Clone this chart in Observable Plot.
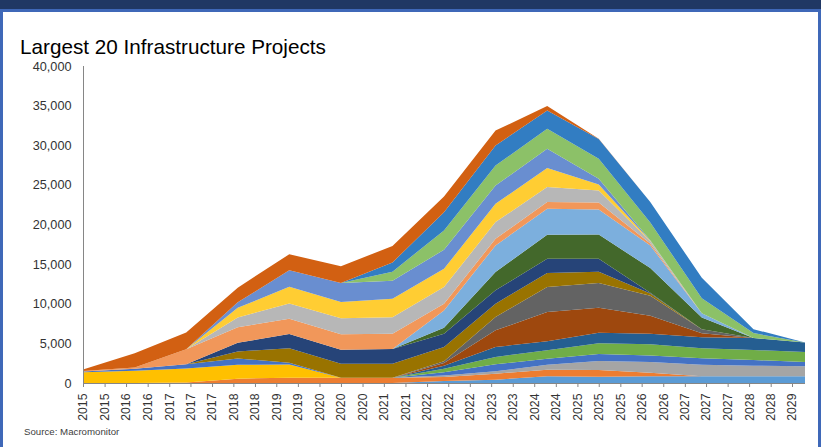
<!DOCTYPE html>
<html>
<head>
<meta charset="utf-8">
<script src="https://cdn.jsdelivr.net/npm/d3@7"></script>
<script src="https://cdn.jsdelivr.net/npm/@observablehq/plot@0.6"></script>
<style>
  html, body { margin: 0; padding: 0; background: #fff; }
  #frame { position: relative; width: 821px; height: 447px; overflow: hidden; background: #fff;
           font-family: "Liberation Sans", Arial, sans-serif; }
  #bar { position: absolute; left: 0; top: 0; width: 821px; height: 9px; background: #203864; }
  #border { position: absolute; left: 0; top: 9px; width: 815px; height: 450px;
            border: 3px solid #3F68B8; border-bottom: none; }
  #title { position: absolute; left: 20px; top: 35px; font-size: 20.7px; line-height: 24px;
           color: #000; white-space: nowrap; }
  #chart { position: absolute; left: 0; top: 60px; }
  #source { position: absolute; left: 24px; top: 425.6px; font-size: 9.7px; line-height: 12px;
            color: #404040; white-space: nowrap; }
</style>
</head>
<body>
<div id="frame">
  <div id="bar"></div>
  <div id="border"></div>
  <div id="title">Largest 20 Infrastructure Projects</div>
  <div id="chart"></div>
  <div id="source">Source: Macromonitor</div>
</div>
<script>
// ---- data (one value per year 2015..2029) ----
const years = [2015, 2016, 2017, 2018, 2019, 2020, 2021, 2022, 2023, 2024, 2025, 2026, 2027, 2028, 2029];

const p01 = [0, 0, 0, 0, 0, 0, 0, 250, 420, 840, 800, 840, 840, 840, 840];
const p02 = [0, 0, 50, 550, 670, 670, 670, 500, 760, 840, 850, 450, 0, 0, 0];
const p03 = [0, 0, 0, 0, 0, 0, 0, 200, 300, 630, 1130, 1350, 1450, 1350, 1260];
const p04 = [1350, 1550, 1770, 1750, 1680, 0, 0, 0, 0, 0, 0, 0, 0, 0, 0];
const p05 = [100, 250, 550, 800, 200, 0, 0, 420, 880, 760, 880, 840, 840, 715, 550];
const p06 = [0, 0, 0, 0, 0, 0, 0, 420, 930, 1050, 1350, 1420, 1260, 1260, 1260];
const p07 = [0, 0, 0, 0, 0, 0, 0, 380, 1260, 1135, 1320, 1300, 1390, 1500, 1200];
const p08 = [0, 0, 0, 0, 0, 0, 0, 340, 2100, 3700, 3150, 2300, 500, 0, 0];
const p09 = [0, 0, 0, 0, 0, 0, 0, 250, 1680, 3150, 3150, 2500, 500, 0, 0];
const p10 = [0, 0, 0, 880, 1850, 1770, 1770, 1770, 1680, 1770, 1410, 300, 0, 0, 0];
const p11 = [0, 0, 0, 1100, 1770, 1770, 1850, 1680, 1680, 1810, 1640, 100, 0, 0, 0];
const p12 = [0, 0, 0, 0, 0, 0, 0, 760, 2310, 3030, 3050, 3100, 1470, 0, 0];
const p13 = [0, 0, 0, 0, 0, 0, 0, 2190, 3360, 3280, 3150, 2850, 550, 0, 0];
const p14 = [50, 150, 1900, 1950, 1930, 1930, 1910, 840, 840, 840, 900, 250, 0, 0, 0];
const p15 = [0, 0, 0, 1250, 1930, 2020, 2100, 2100, 2100, 1890, 1520, 300, 0, 0, 0];
const p16 = [0, 0, 0, 1200, 2100, 2060, 2330, 2310, 2310, 2400, 740, 50, 0, 0, 0];
const p17 = [0, 0, 0, 700, 2100, 2400, 2270, 2400, 2310, 2440, 740, 50, 0, 0, 0];
const p18 = [0, 0, 0, 0, 0, 0, 1150, 2440, 2520, 2520, 2520, 2250, 1890, 630, 0];
const p19 = [0, 0, 0, 0, 0, 0, 1150, 2310, 2520, 2310, 2480, 2600, 2590, 500, 0];
const p20 = [200, 1800, 2100, 1850, 2020, 2100, 2100, 1980, 1890, 550, 50, 0, 0, 0, 0];

const seriesNames = ["Project 1", "Project 2", "Project 3", "Project 4", "Project 5",
  "Project 6", "Project 7", "Project 8", "Project 9", "Project 10",
  "Project 11", "Project 12", "Project 13", "Project 14", "Project 15",
  "Project 16", "Project 17", "Project 18", "Project 19", "Project 20"];
const seriesValues = [p01, p02, p03, p04, p05, p06, p07, p08, p09, p10,
  p11, p12, p13, p14, p15, p16, p17, p18, p19, p20];
const seriesColors = ["#5B9BD5", "#ED7D31", "#A5A5A5", "#FFC000", "#4472C4", "#70AD47",
  "#255E91", "#9E480E", "#636363", "#997300", "#264478", "#43682B",
  "#7CAFDD", "#F1975A", "#B7B7B7", "#FFCD33", "#698ED0", "#8CC168",
  "#327DC2", "#D26012"];

// date-axis ticks (every 5 months), labelled with the year
const xTickMonths = ["2015-06", "2015-11", "2016-04", "2016-09", "2017-02", "2017-07", "2017-12",
  "2018-05", "2018-10", "2019-03", "2019-08", "2020-01", "2020-06", "2020-11", "2021-04",
  "2021-09", "2022-02", "2022-07", "2022-12", "2023-05", "2023-10", "2024-03", "2024-08",
  "2025-01", "2025-06", "2025-11", "2026-04", "2026-09", "2027-02", "2027-07", "2027-12",
  "2028-05", "2028-10", "2029-03"];
const yTicks = [0, 5000, 10000, 15000, 20000, 25000, 30000, 35000, 40000];

// ---- build table ----
const parseMonth = d3.utcParse("%Y-%m");
const dateOf = (y) => new Date(Date.UTC(y, 5, 1));
const rows = [];
seriesNames.forEach((name, i) => {
  years.forEach((y, j) => rows.push({ date: dateOf(y), series: name, value: seriesValues[i][j] }));
});
const tickDates = xTickMonths.map(parseMonth);

const axisGray = "#868686";
const chart = Plot.plot({
  width: 821,
  height: 366,
  marginLeft: 83,
  marginRight: 16,
  marginTop: 6,
  marginBottom: 43,
  style: { fontFamily: "'Liberation Sans', Arial, sans-serif", color: "#333", background: "transparent" },
  x: { type: "utc", domain: [dateOf(years[0]), dateOf(years[years.length - 1])] },
  y: { domain: [0, 40000] },
  color: { type: "ordinal", domain: seriesNames, range: seriesColors },
  marks: [
    Plot.areaY(rows, { x: "date", y: "value", z: "series", fill: "series", order: seriesNames, curve: "linear" }),
    Plot.axisY({ ticks: yTicks, tickSize: 0, tickPadding: 12, tickFormat: d3.format(","), fontSize: 12.7, label: null }),
    Plot.axisX({ ticks: tickDates, tickFormat: d3.utcFormat("%Y"), tickRotate: -90, tickSize: 4, tickPadding: 6,
                 fontSize: 12.3, stroke: axisGray, label: null }),
    Plot.ruleX([dateOf(years[0])], { stroke: axisGray }),
    Plot.ruleY([0], { stroke: axisGray })
  ]
});
document.getElementById("chart").appendChild(chart);
</script>
</body>
</html>
